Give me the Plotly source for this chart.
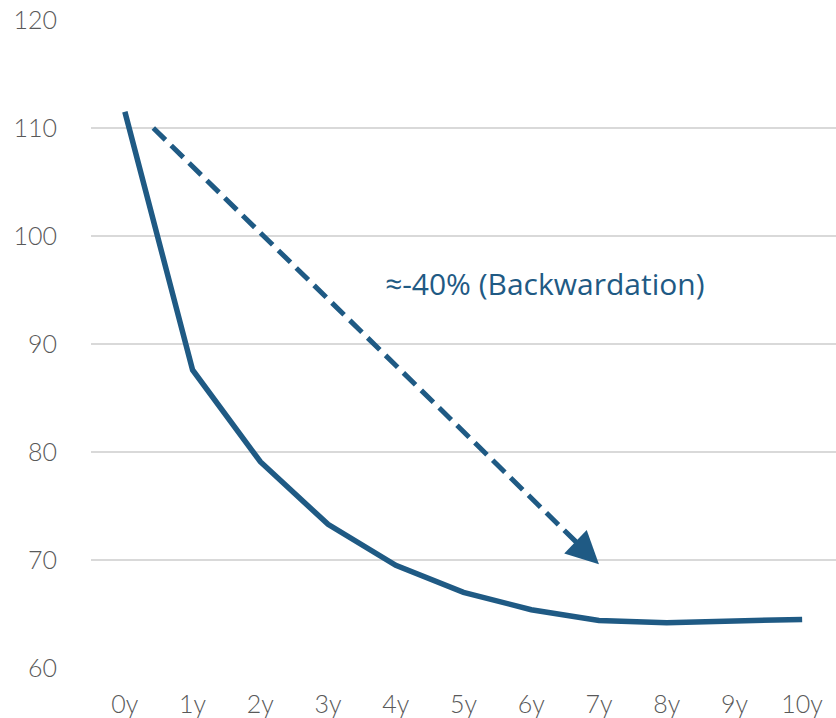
import plotly.graph_objects as go

categories = ["0y", "1y", "2y", "3y", "4y", "5y", "6y", "7y", "8y", "9y", "10y"]
values = [111.5, 87.6, 79.1, 73.3, 69.5, 67.0, 65.4, 64.4, 64.2, 64.4, 64.5]
y_ticks = [60, 70, 80, 90, 100, 110, 120]

arrow_start = (0.42, 110.0)
arrow_end = (7.0, 69.6)
label_text = "≈-40% (Backwardation)"
label_pos = (6.2, 95.6)

color = "#1F5A84"
tick_color = "#595959"

fig = go.Figure()
fig.add_trace(go.Scatter(
    x=list(range(len(categories))), y=values, mode="lines",
    line=dict(color=color, width=5.5), hoverinfo="skip", showlegend=False,
))

# dashed arrow shaft
fig.add_shape(type="line", xref="x", yref="y",
              x0=arrow_start[0], y0=arrow_start[1],
              x1=arrow_start[0] + (arrow_end[0] - arrow_start[0]) * 0.96,
              y1=arrow_start[1] + (arrow_end[1] - arrow_start[1]) * 0.96,
              line=dict(color=color, width=5, dash="17px,8px"))
# arrow head
fig.add_annotation(x=arrow_end[0], y=arrow_end[1], xref="x", yref="y",
                   ax=arrow_end[0] - 0.35, ay=arrow_end[1] + 2.1, axref="x", ayref="y",
                   showarrow=True, arrowhead=2, arrowsize=1.3, arrowwidth=5,
                   arrowcolor=color, text="")
fig.add_annotation(x=label_pos[0], y=label_pos[1], xref="x", yref="y",
                   text=label_text, showarrow=False,
                   font=dict(family="Open Sans", size=30, color=color))

fig.update_layout(
    width=836, height=718,
    margin=dict(l=91, r=0, t=20, b=50, autoexpand=False),
    plot_bgcolor="white", paper_bgcolor="white",
    font=dict(family="Lato", color=tick_color, size=25),
    xaxis=dict(tickmode="array", tickvals=list(range(len(categories))),
               ticktext=categories, range=[-0.5, len(categories) - 0.5],
               showgrid=False, zeroline=False, showline=False, ticks="outside",
               ticklen=14, tickcolor="rgba(0,0,0,0)", automargin=False,
               tickfont=dict(family="Lato", size=25, color=tick_color, weight=300)),
    yaxis=dict(range=[60, 120], tickvals=y_ticks, showgrid=True,
               gridcolor="#D9D9D9", gridwidth=2, zeroline=False, automargin=False,
               showline=False, ticks="outside", ticklen=28, tickcolor="rgba(0,0,0,0)",
               tickfont=dict(family="Lato", size=25, color=tick_color, weight=300)),
)

fig.write_html("out.html", config={"displayModeBar": False},
               post_script="document.body.style.margin='0';document.body.style.overflow='hidden';")
